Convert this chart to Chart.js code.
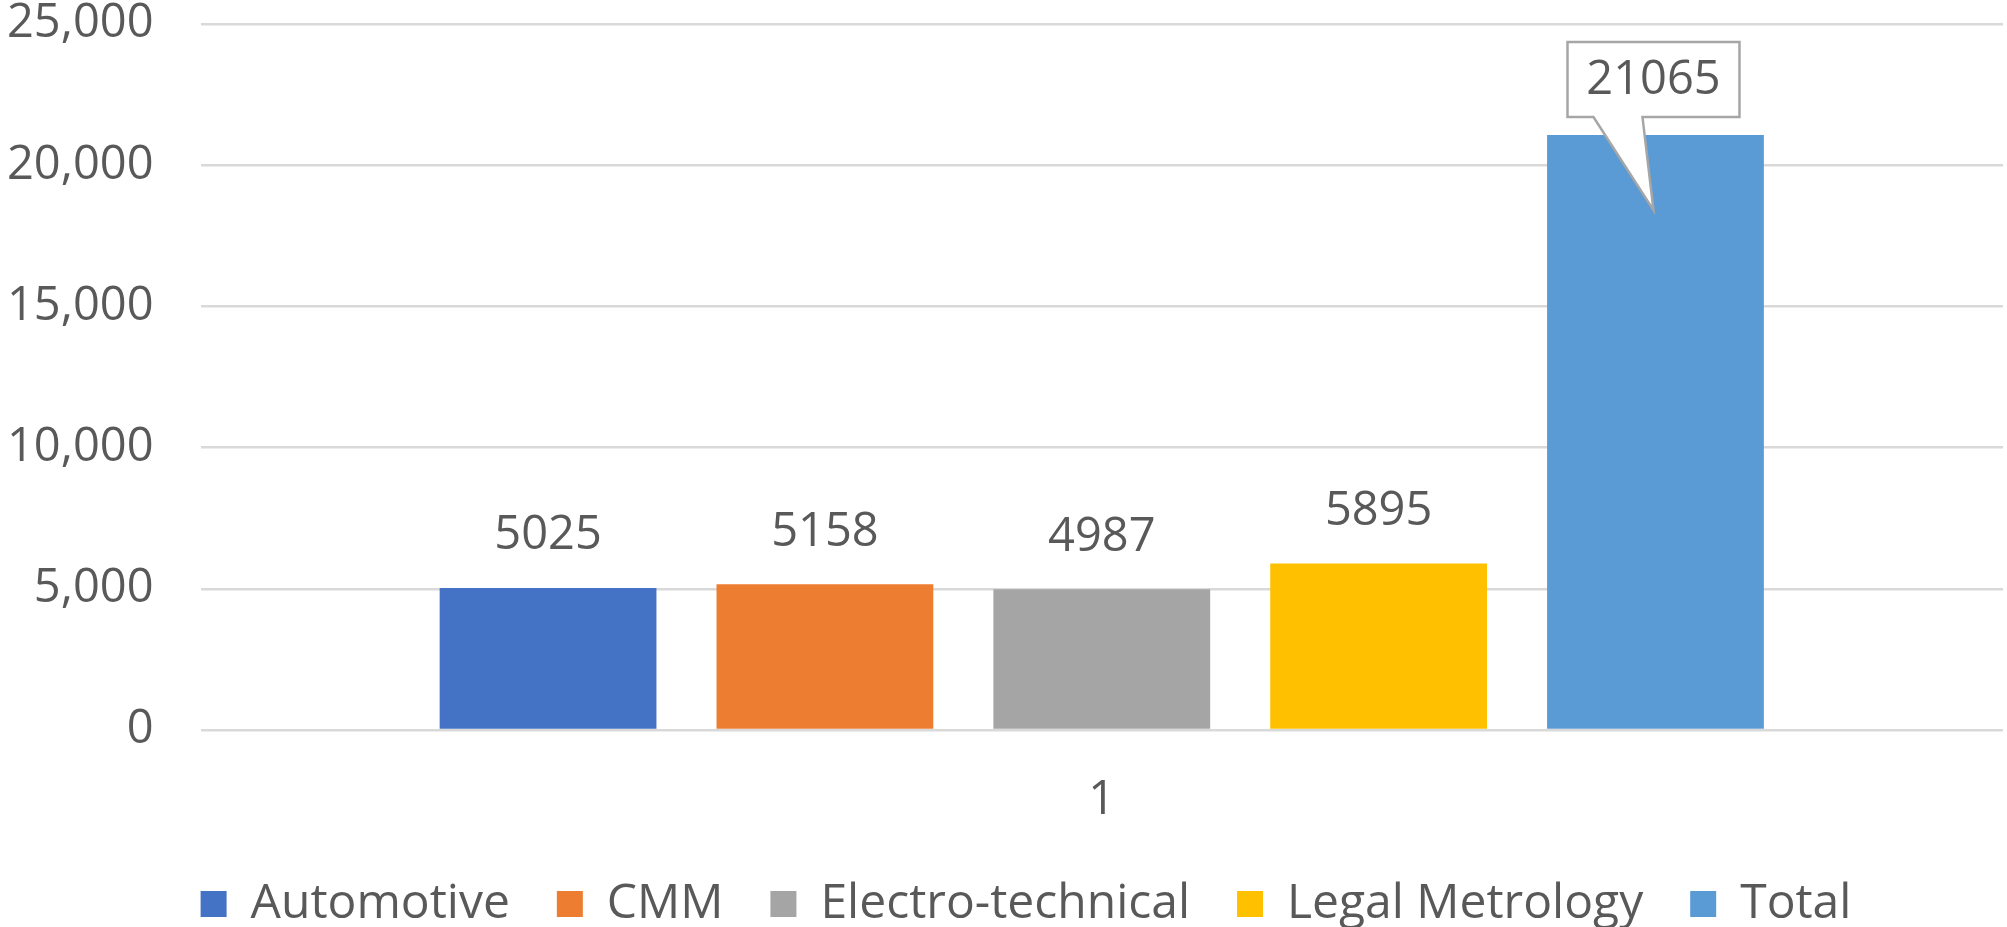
<!DOCTYPE html>
<html>
<head>
<meta charset="utf-8">
<script src="https://cdn.jsdelivr.net/npm/chart.js@4.4.1/dist/chart.umd.min.js"></script>
<style>
  html, body { margin: 0; padding: 0; background: #fff; }
  #wrap { width: 2007px; height: 927px; }
</style>
</head>
<body>
<div id="wrap"><canvas id="chart"></canvas></div>
<script>
// Chart values
var categories = ['1'];
var seriesNames = ['Automotive', 'CMM', 'Electro-technical', 'Legal Metrology', 'Total'];
var seriesValues = [5025, 5158, 4987, 5895, 21065];
var yTickMax = 25000;
var yTickStep = 5000;

// Which series gets the speech-bubble label instead of a plain one
var calloutSeries = 'Total';

var palette = ['#4472C4', '#ED7D31', '#A5A5A5', '#FFC000', '#5B9BD5'];
var textColor = '#595959';
var fontFamily = '"Open Sans", "Noto Sans", sans-serif';
var fontSize = 47;

// Draws the value above each bar, or a callout box for the total
var valueLabels = {
	id: 'valueLabels',
	afterDatasetsDraw: function(chart) {
		var ctx = chart.ctx;
		ctx.save();
		ctx.font = fontSize + 'px ' + fontFamily;
		ctx.fillStyle = textColor;
		ctx.textAlign = 'center';
		ctx.textBaseline = 'middle';

		chart.data.datasets.forEach(function(ds, i) {
			var meta = chart.getDatasetMeta(i);
			meta.data.forEach(function(bar, j) {
				var text = String(ds.data[j]);
				if (ds.label === calloutSeries) {
					drawCallout(ctx, bar, text);
				} else {
					ctx.fillText(text, bar.x, bar.y - 52);
				}
			});
		});
		ctx.restore();
	}
};

function drawCallout(ctx, bar, text) {
	var bottom = bar.y - 18;
	var top = bottom - 75;
	var left = bar.x - 88;
	var right = bar.x + 84;

	ctx.save();
	ctx.beginPath();
	ctx.moveTo(left, top);
	ctx.lineTo(right, top);
	ctx.lineTo(right, bottom);
	ctx.lineTo(bar.x - 13, bottom);
	ctx.lineTo(bar.x - 2, bar.y + 75);
	ctx.lineTo(bar.x - 62, bottom);
	ctx.lineTo(left, bottom);
	ctx.closePath();
	ctx.fillStyle = '#FFFFFF';
	ctx.fill();
	ctx.lineWidth = 2.5;
	ctx.strokeStyle = '#A6A6A6';
	ctx.stroke();
	ctx.restore();

	ctx.fillText(text, (left + right) / 2, (top + bottom) / 2 + 1);
}

// Excel centres its legend a bit right of the canvas middle
var legendNudge = {
	id: 'legendNudge',
	afterLayout: function(chart) {
		if (chart.legend) {
			chart.legend.left += 21;
			chart.legend.right += 21;
		}
	}
};

var datasets = seriesNames.map(function(name, i) {
	return {
		label: name,
		data: [seriesValues[i]],
		backgroundColor: palette[i],
		borderWidth: 0,
		categoryPercentage: 0.768,
		barPercentage: 0.783
	};
});

new Chart(document.getElementById('chart'), {
	type: 'bar',
	data: {
		labels: categories,
		datasets: datasets
	},
	options: {
		responsive: true,
		maintainAspectRatio: false,
		animation: false,
		devicePixelRatio: 1,
		layout: {
			padding: { top: 24, left: 7, right: 4, bottom: 0 }
		},
		plugins: {
			legend: {
				position: 'bottom',
				maxHeight: 94,
				labels: {
					boxWidth: 26,
					boxHeight: 26,
					padding: 47,
					color: textColor,
					font: { family: fontFamily, size: 48 }
				}
			},
			tooltip: { enabled: false }
		},
		scales: {
			x: {
				grid: { display: false },
				border: { display: false },
				// fixed band between the plot and the legend
				afterFit: function(scale) { scale.height = 103; },
				ticks: {
					color: textColor,
					padding: 44,
					font: { family: fontFamily, size: fontSize, lineHeight: 0.81 }
				}
			},
			y: {
				min: 0,
				max: yTickMax,
				// invisible tick marks make the gap between labels and grid
				grid: {
					color: '#D9D9D9',
					lineWidth: 2.5,
					drawTicks: true,
					tickLength: 47,
					tickColor: 'rgba(0,0,0,0)'
				},
				border: { display: false },
				ticks: {
					stepSize: yTickStep,
					padding: 0,
					color: textColor,
					font: { family: fontFamily, size: fontSize, lineHeight: 0.85 },
					callback: function(v) { return v.toLocaleString('en-US'); }
				}
			}
		}
	},
	plugins: [valueLabels, legendNudge]
});
</script>
</body>
</html>
